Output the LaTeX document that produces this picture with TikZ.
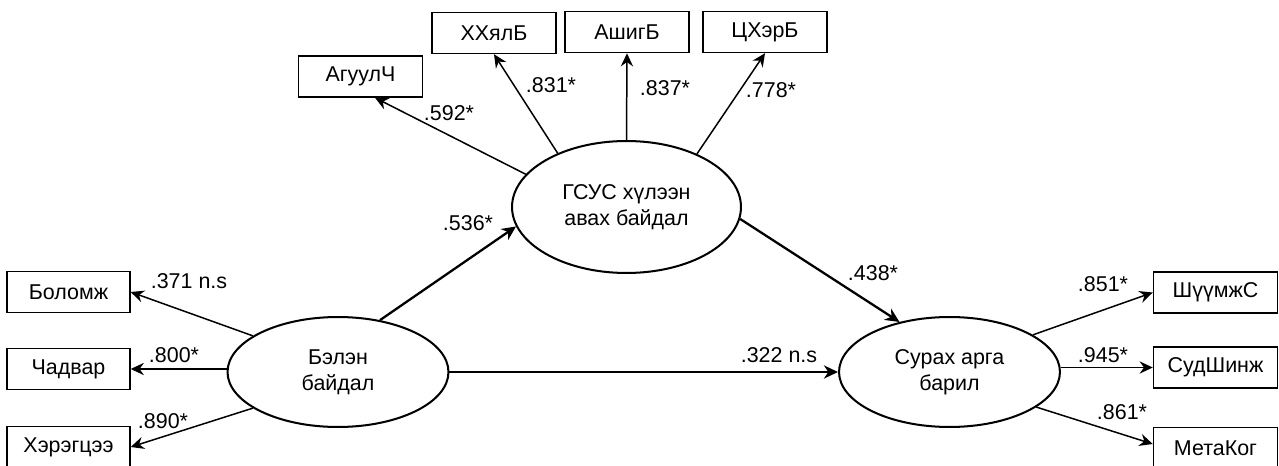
\documentclass[tikz,border=0pt]{standalone}
\usepackage{fontspec}
\setmainfont{Liberation Sans}
\usetikzlibrary{arrows.meta,shapes.geometric}

\tikzset{
  obs/.style={draw,line width=0.85pt,minimum width=2.48cm,minimum height=0.82cm,inner sep=0pt},
  lat/.style={draw,ellipse,line width=1.15pt,minimum width=4.42cm,minimum height=2.2cm,inner sep=0pt,align=center},
  load/.style={-{Stealth[length=7.5pt,width=7pt,inset=2.5pt]},line width=0.85pt},
  struct/.style={-{Stealth[length=8pt,width=7.5pt,inset=2.5pt]},line width=1.3pt},
  coef/.style={inner sep=0pt}
}

\begin{document}
\begin{tikzpicture}[x=0.02cm,y=-0.02cm,font=\fontsize{12.2}{14.8}\selectfont]
\useasboundingbox (0,0) rectangle (1279,466);

% latent variables
\node[lat,minimum width=4.58cm,minimum height=2.64cm] (gsus) at (626.5,207) {ГСУС хүлээн\\авах байдал};
\node[lat] (bel) at (338,372) {Бэлэн\\байдал};
\node[lat] (surah) at (949.5,372) {Сурах арга\\барил};

% indicators
\node[obs] (agul) at (360.5,76.5) {АгуулЧ};
\node[obs] (xxyal) at (494,33) {ХХялБ};
\node[obs] (ashig) at (627,32) {АшигБ};
\node[obs] (tsxer) at (765,32) {ЦХэрБ};

\node[obs,minimum width=2.46cm] (bolomj) at (68.5,292) {Боломж};
\node[obs,minimum width=2.46cm] (chadvar) at (68.5,369) {Чадвар};
\node[obs,minimum width=2.46cm] (xeregtsee) at (68.5,447) {Хэрэгцээ};

\node[obs] (shuumj) at (1215.5,292.5) {ШүүмжС};
\node[obs] (sudshinj) at (1215.5,367.5) {СудШинж};
\node[obs] (metakog) at (1215.5,448) {МетаКог};

% loadings
\draw[load] (gsus.162.8) -- ([xshift=0.29cm]agul.south);
\draw[load] (gsus.142) -- (xxyal.south);
\draw[load] (gsus.north) -- (ashig.south);
\draw[load] (gsus.37.6) -- (tsxer.south);

\draw[load] (bel.157) -- (bolomj.east);
\draw[load] (bel.west |- chadvar.east) -- (chadvar.east);
\draw[load] (bel.203.5) -- (xeregtsee.east);

\draw[load] (surah.24.5) -- (shuumj.west);
\draw[load] (surah.east |- sudshinj.west) -- (sudshinj.west);
\draw[load] (surah.338.3) -- ([yshift=0.08cm]metakog.west);

% paths
\draw[struct] (bel.51.3) -- (gsus.190.2);
\draw[struct] (gsus.354.5) -- (surah.135.8);
\draw[struct] (bel.east) -- (surah.west);

% coefficients
\node[coef] (c592) at (449,113) {.592*};
\node[coef] (c831) at (551,85) {.831*};
\node[coef] (c837) at (665,88) {.837*};
\node[coef] (c778) at (771,90) {.778*};

\node[coef] (c371) at (189,281) {.371 n.s};
\node[coef] (c800) at (174,355) {.800*};
\node[coef] (c890) at (163,421) {.890*};

\node[coef] (c536) at (468,223) {.536*};
\node[coef] (c438) at (873,273) {.438*};
\node[coef] (c322) at (779,355) {.322 n.s};

\node[coef] (c851) at (1103,284) {.851*};
\node[coef] (c945) at (1103,355) {.945*};
\node[coef] (c861) at (1122,412) {.861*};
\end{tikzpicture}
\end{document}
